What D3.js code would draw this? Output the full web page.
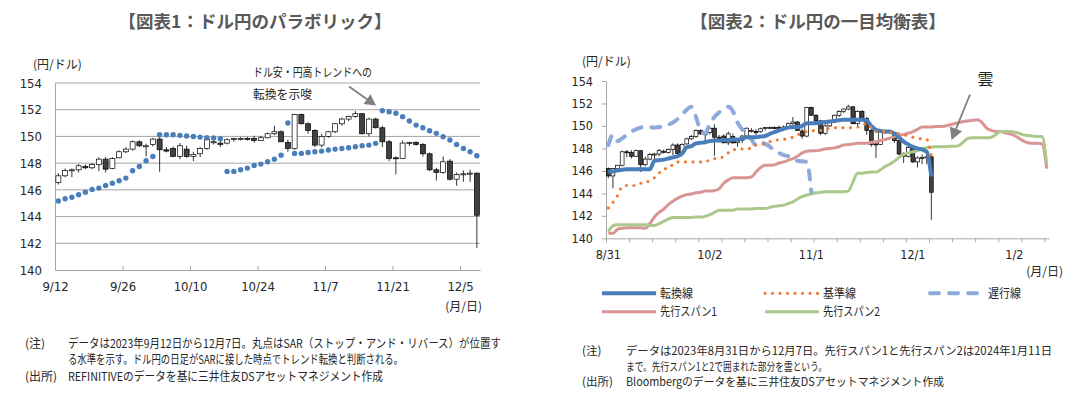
<!DOCTYPE html>
<html>
<head>
<meta charset="utf-8">
<script src="https://cdn.jsdelivr.net/npm/d3@7"></script>
<style>
  body { margin: 0; background: #fff; }
  svg text { font-family: "Noto Sans CJK JP", sans-serif; fill: #262626; }
  svg .num text, svg text.num { font-family: "DejaVu Sans Condensed", "DejaVu Sans", sans-serif; }
</style>
</head>
<body>
<svg id="chart" width="1087" height="397"></svg>
<script>
// ---- chart 1 : parabolic SAR, 2023/9/12 - 12/7 (63 trading days)
let open1 = [146.55,147.05,147.45,147.5,147.75,147.65,147.9,148.3,147.6,148.4,148.85,149.05,149.6,149.3,149.4,149.8,149.0,149.1,148.5,149.05,148.5,148.7,149.1,149.55,149.5,149.5,149.8,149.85,149.85,149.85,149.7,149.9,150.2,150.35,149.55,149.1,151.65,150.95,150.45,149.35,150.0,150.35,150.95,151.3,151.5,151.7,150.2,151.3,150.65,149.6,148.4,148.35,149.5,149.55,149.4,148.7,147.5,147.3,148.15,146.8,147.15,147.2,147.25];
let high1 = [147.25,147.6,147.6,147.95,147.9,148.0,148.45,148.45,148.45,148.95,149.2,149.7,149.7,149.45,149.9,150.15,149.2,149.25,149.5,149.3,148.85,149.2,149.85,149.8,149.7,149.85,149.9,149.95,149.95,150.05,150.05,150.3,150.8,150.45,149.75,151.7,151.7,151.05,150.55,150.2,150.4,151.0,151.4,151.55,151.9,151.75,151.4,151.4,150.8,149.75,148.5,149.7,149.6,149.65,149.5,148.8,147.65,148.5,148.3,147.3,147.45,147.5,147.3];
let low1 = [146.4,146.95,146.95,147.3,147.55,147.55,147.4,147.3,147.55,148.35,148.75,148.95,149.2,148.5,149.25,147.35,148.8,148.45,148.3,148.4,148.15,148.45,149.0,149.4,149.2,149.4,149.6,149.7,149.7,149.55,149.65,149.85,150.1,149.6,148.85,149.0,150.9,150.2,149.2,149.2,149.9,150.25,150.8,151.15,151.4,150.15,150.0,150.6,149.2,148.15,147.15,148.3,149.3,149.3,148.5,147.4,146.7,147.2,146.7,146.3,146.6,146.6,141.65];
let close1 = [147.05,147.45,147.5,147.8,147.65,147.9,148.3,147.55,148.35,148.85,149.05,149.6,149.3,149.3,149.8,149.0,148.9,148.5,149.3,148.5,148.65,149.1,149.8,149.6,149.4,149.75,149.85,149.85,149.8,149.7,149.9,150.2,150.35,149.6,149.1,151.65,150.95,150.45,149.35,150.0,150.35,150.95,151.3,151.5,151.7,150.2,151.3,150.65,149.6,148.35,148.35,149.5,149.55,149.4,148.7,147.5,147.3,148.1,146.8,147.15,147.2,147.25,144.1];
let sar1 = [145.17,145.33,145.45,145.63,145.83,146.03,146.13,146.33,146.5,146.68,146.88,147.43,147.75,148.18,148.5,
  150.13,150.13,150.13,150.08,150.03,150.0,149.95,149.9,149.88,149.83,
  147.38,147.38,147.5,147.63,147.83,147.93,148.1,148.3,148.6,
  151.0,
  148.73,148.73,148.8,148.85,148.9,148.98,149.05,149.1,149.15,149.23,149.3,149.35,149.48,
  151.93,151.85,151.73,151.48,151.15,150.85,150.65,150.43,150.23,149.98,149.73,149.4,149.1,148.85,148.55];
let tickIdx1 = [0, 10, 20, 30, 40, 50, 60];
let tickLab1 = ["9/12", "9/26", "10/10", "10/24", "11/7", "11/21", "12/5"];
let yTicks = [140, 142, 144, 146, 148, 150, 152, 154];

// ---- chart 2 : ichimoku, 2023/8/31 - 2024/1/11 (96 slots), prices 8/31 - 9/11 before chart 1 data
let openPre = [146.2, 145.55, 146.2, 146.5, 147.7, 147.65, 147.3, 147.8];
let highPre = [146.3, 146.25, 146.55, 147.8, 147.85, 147.85, 147.9, 147.85];
let lowPre = [145.35, 144.45, 146.05, 146.4, 147.2, 147.1, 147.25, 145.9];
let closePre = [145.55, 146.2, 146.5, 147.7, 147.65, 147.3, 147.8, 146.55];
let nSlots2 = 96;
let tenkan = [145.95,145.95,146.05,146.1,146.15,146.15,146.15,146.15,146.15,146.15,
  146.9,146.95,147.0,147.1,147.2,147.3,147.55,148.1,148.2,148.45,148.5,148.55,
  148.65,148.7,148.7,148.75,148.75,148.8,148.8,148.85,149.0,149.0,149.0,149.05,149.1,
  149.3,149.45,149.6,149.75,149.85,149.9,149.9,150.0,150.25,150.25,150.25,150.3,150.35,
  150.4,150.45,150.5,150.55,150.55,150.55,150.55,150.55,150.5,150.0,149.65,149.55,149.5,149.5,
  149.3,149.0,148.6,148.35,148.15,148.0,147.9,147.7,145.5];
let kijun = [142.7,143.2,143.8,144.6,144.7,144.7,144.7,144.9,144.9,145.2,145.4,145.8,146.2,146.2,146.6,
  146.8,146.8,146.8,146.8,146.8,146.8,146.8,147.0,147.1,147.1,147.3,147.6,147.9,147.9,147.95,148.0,148.0,
  148.3,148.3,148.5,148.6,148.75,148.75,148.8,148.9,149.0,149.2,149.35,149.5,149.55,149.6,149.6,149.7,149.8,
  149.85,149.85,149.85,149.85,149.85,149.9,150.0,150.25,149.85,149.5,149.5,149.5,149.45,149.4,149.3,
  149.2,149.15,149.0,148.9,148.85,148.8,147.3];
let chikou = [148.3,149.2,148.65,148.9,149.2,149.5,149.7,149.85,149.95,149.9,149.85,149.9,149.95,150.1,150.3,
  150.6,151.0,151.45,151.7,150.8,149.6,149.35,150.2,150.8,151.2,151.5,151.7,151.3,150.3,149.7,149.3,
  148.8,148.3,148.55,148.4,148.15,147.8,147.6,147.4,147.3,147.0,146.9,146.85,146.8,144.1];
let spanA = [140.45,140.45,140.8,140.9,140.95,140.95,140.95,140.95,140.9,141.3,141.9,142.3,142.6,143.0,143.3,
  143.55,143.75,143.9,143.95,144.05,144.1,144.2,144.2,144.25,144.4,144.9,145.2,145.4,145.4,145.4,145.4,
  145.45,145.9,146.3,146.5,146.5,146.55,146.7,146.8,146.95,147.1,147.3,147.6,147.75,147.8,147.8,147.85,
  147.95,148.0,148.05,148.15,148.3,148.35,148.4,148.45,148.45,148.45,148.55,148.6,148.7,148.8,148.9,
  149.05,149.15,149.25,149.35,149.5,149.7,149.9,149.9,149.9,149.95,149.95,150.0,150.1,150.2,150.3,150.4,
  150.45,150.5,150.55,150.3,149.8,149.6,149.5,149.5,149.4,149.3,149.15,148.9,148.65,148.5,148.45,148.45,148.4,146.2];
let spanB = [140.6,141.1,141.2,141.2,141.2,141.2,141.2,141.2,141.2,141.15,141.15,141.3,141.5,141.7,141.85,
  141.85,141.85,141.85,141.85,141.9,141.9,141.95,142.1,142.3,142.5,142.5,142.5,142.5,142.6,142.6,142.6,
  142.6,142.65,142.65,142.65,142.75,142.85,142.9,142.95,143.1,143.25,143.5,143.7,143.85,143.95,144.05,
  144.1,144.15,144.15,144.15,144.15,144.15,144.2,145.0,145.8,145.8,145.85,145.9,145.9,146.1,146.4,146.6,
  146.85,147.2,147.45,147.6,147.7,147.8,148.0,148.05,148.1,148.15,148.15,148.15,148.2,148.2,148.25,148.6,
  148.9,148.95,148.95,148.95,148.95,149.0,149.25,149.5,149.5,149.5,149.45,149.35,149.2,149.15,149.1,149.05,149.05,146.6];
let tickIdx2 = [0, 22, 44, 66, 88];
let tickLab2 = ["8/31", "10/2", "11/1", "12/1", "1/2"];

const svg = d3.select("#chart");
const gridCol = "#a6a6a6", axisCol = "#a6a6a6";

// titles
svg.append("text").attr("x", 255).attr("y", 28).attr("text-anchor", "middle")
  .style("font-size", "17.5px").style("font-weight", "bold").style("fill", "#595959")
  .text("【図表1：ドル円のパラボリック】");
svg.append("text").attr("x", 818).attr("y", 28).attr("text-anchor", "middle")
  .style("font-size", "17.5px").style("font-weight", "bold").style("fill", "#595959")
  .text("【図表2：ドル円の一目均衡表】");

function fit(sel, w) {
  return sel.attr("textLength", w).attr("lengthAdjust", "spacingAndGlyphs");
}

function candles(g, x, y, o, h, l, c, bodyW) {
  let days = o.map((d, i) => ({ i: i, o: o[i], h: h[i], l: l[i], c: c[i] }));
  let cx = d => x(d.i) + x.bandwidth() / 2;
  g.selectAll("line.wick").data(days).enter().append("line")
    .attr("x1", cx).attr("x2", cx)
    .attr("y1", d => y(d.h)).attr("y2", d => y(d.l))
    .attr("stroke", "#000").attr("stroke-width", 0.8);
  g.selectAll("rect.body").data(days).enter().append("rect")
    .attr("x", d => cx(d) - bodyW / 2)
    .attr("width", bodyW)
    .attr("y", d => y(Math.max(d.o, d.c)))
    .attr("height", d => Math.max(1, Math.abs(y(d.o) - y(d.c))))
    .attr("fill", d => d.c >= d.o ? "#fff" : "#404040")
    .attr("stroke", "#000").attr("stroke-width", 0.7);
}

// ================= chart 1
let n1 = open1.length;
let x1 = d3.scaleBand().domain(d3.range(n1)).range([55, 480.25]);
let xi1 = d3.scaleLinear().domain([0, n1]).range([55, 480.25]);
let y1 = d3.scaleLinear().domain([140, 154]).range([270, 83]);

let g1 = svg.append("g");
g1.selectAll("line.grid").data(yTicks.slice(1)).enter().append("line")
  .attr("x1", 55).attr("x2", 480.25)
  .attr("y1", d => y1(d)).attr("y2", d => y1(d))
  .attr("stroke", gridCol).attr("stroke-width", 1);

let yAx1 = g1.append("g").attr("class", "num").attr("transform", "translate(55,0)")
  .call(d3.axisLeft(y1).tickValues(yTicks).tickSize(0).tickPadding(13));
yAx1.select(".domain").attr("stroke", axisCol);
yAx1.selectAll("text").style("font-size", "13px").style("fill", "#262626");

let xAx1 = g1.append("g").attr("class", "num").attr("transform", "translate(0,270)")
  .call(d3.axisBottom(xi1).tickValues(tickIdx1).tickFormat((d, i) => tickLab1[i])
    .tickSizeInner(-4).tickSizeOuter(0).tickPadding(12));
xAx1.select(".domain").attr("stroke", axisCol);
xAx1.selectAll(".tick line").attr("stroke", axisCol);
xAx1.selectAll("text").style("font-size", "13px").style("fill", "#262626");

candles(g1.append("g"), x1, y1, open1, high1, low1, close1, 5);

g1.selectAll("circle.sar").data(sar1).enter().append("circle")
  .attr("cx", (d, i) => x1(i) + x1.bandwidth() / 2)
  .attr("cy", d => y1(d))
  .attr("r", 2.7)
  .attr("fill", "#4a7ebb");

svg.append("text").attr("x", 33).attr("y", 69).style("font-size", "12px").text("(円/ドル)");
svg.append("text").attr("x", 482).attr("y", 311).attr("text-anchor", "end").style("font-size", "12px").text("(月/日)");

// annotation
fit(svg.append("text").attr("x", 253).attr("y", 77).style("font-size", "12px").text("ドル安・円高トレンドへの"), 119);
fit(svg.append("text").attr("x", 253).attr("y", 99).style("font-size", "12px").text("転換を示唆"), 59);

function arrow(x0, y0, x1_, y1_, head) {
  let a = Math.atan2(y1_ - y0, x1_ - x0);
  let bx = x1_ - head * Math.cos(a), by = y1_ - head * Math.sin(a);
  svg.append("line").attr("x1", x0).attr("y1", y0).attr("x2", bx).attr("y2", by)
    .attr("stroke", "#7f7f7f").attr("stroke-width", 1.8);
  let w = head * 0.55;
  let pts = [[x1_, y1_],
    [bx + w * Math.sin(a), by - w * Math.cos(a)],
    [bx - w * Math.sin(a), by + w * Math.cos(a)]];
  svg.append("polygon").attr("points", pts.map(p => p.join(",")).join(" ")).attr("fill", "#7f7f7f");
}
arrow(349, 86.5, 376, 105.5, 11);

// notes chart 1
let noteSize = "12px";
svg.append("text").attr("x", 25).attr("y", 348).style("font-size", noteSize).text("(注)");
fit(svg.append("text").attr("x", 68).attr("y", 348).style("font-size", noteSize)
  .text("データは2023年9月12日から12月7日。丸点はSAR（ストップ・アンド・リバース）が位置す"), 433);
fit(svg.append("text").attr("x", 68).attr("y", 364).style("font-size", noteSize)
  .text("る水準を示す。ドル円の日足がSARに接した時点でトレンド転換と判断される。"), 335);
svg.append("text").attr("x", 25).attr("y", 381).style("font-size", noteSize).text("(出所)");
fit(svg.append("text").attr("x", 68).attr("y", 381).style("font-size", noteSize)
  .text("REFINITIVEのデータを基に三井住友DSアセットマネジメント作成"), 315);

// ================= chart 2
let open2 = openPre.concat(open1), high2 = highPre.concat(high1),
    low2 = lowPre.concat(low1), close2 = closePre.concat(close1);
let x2 = d3.scaleBand().domain(d3.range(nSlots2)).range([606, 1049]);
let xi2 = d3.scaleLinear().domain([0, nSlots2]).range([606, 1049]);
let y2 = d3.scaleLinear().domain([140, 154]).range([238.3, 81]);

let g2 = svg.append("g");
let yAx2 = g2.append("g").attr("class", "num").attr("transform", "translate(606,0)")
  .call(d3.axisLeft(y2).tickValues(yTicks).tickSizeInner(4).tickSizeOuter(0).tickPadding(9));
yAx2.select(".domain").attr("stroke", axisCol);
yAx2.selectAll(".tick line").attr("stroke", axisCol);
yAx2.selectAll("text").style("font-size", "12.5px").style("fill", "#262626");

let xAx2 = g2.append("g").attr("class", "num").attr("transform", "translate(0,238.3)")
  .call(d3.axisBottom(xi2).tickValues(d3.range(0, nSlots2, 5)).tickFormat("").tickSizeInner(4).tickSizeOuter(0));
xAx2.select(".domain").attr("stroke", axisCol);
xAx2.selectAll(".tick line").attr("stroke", axisCol);

let xLab2 = g2.append("g").attr("class", "num").attr("transform", "translate(0,238.3)")
  .call(d3.axisBottom(x2).tickValues(tickIdx2).tickFormat((d, i) => tickLab2[i]).tickSize(0).tickPadding(12));
xLab2.select(".domain").remove();
xLab2.selectAll("text").style("font-size", "12.5px").style("fill", "#262626");

candles(g2.append("g"), x2, y2, open2, high2, low2, close2, 3.8);

let line2 = d3.line().x((d, i) => x2(i) + x2.bandwidth() / 2).y(d => y2(d)).curve(d3.curveMonotoneX);
let styles = [
  { data: spanA, col: "#d99594", w: 3, dash: null, cap: "butt" },
  { data: spanB, col: "#aac98a", w: 3, dash: null, cap: "butt" },
  { data: chikou, col: "#8eaadb", w: 4, dash: "9 10", cap: "round" },
  { data: tenkan, col: "#4a7ebb", w: 4, dash: null, cap: "butt" },
  { data: kijun, col: "#ed7d31", w: 3.2, dash: "0 7.5", cap: "round" }
];
styles.forEach(s => {
  g2.append("path").attr("d", line2(s.data)).attr("fill", "none")
    .attr("stroke", s.col).attr("stroke-width", s.w)
    .attr("stroke-dasharray", s.dash).attr("stroke-linecap", s.cap)
    .attr("stroke-linejoin", "round");
});

svg.append("text").attr("x", 582).attr("y", 66).style("font-size", "12px").text("(円/ドル)");
svg.append("text").attr("x", 1063).attr("y", 276).attr("text-anchor", "end").style("font-size", "12px").text("(月/日)");

svg.append("text").attr("x", 985.5).attr("y", 85).attr("text-anchor", "middle").style("font-size", "16px").text("雲");
arrow(970, 94.5, 951.5, 140, 12);

// legend
let legend = [
  { lab: "転換線", s: styles[3], x: 602, y: 293.3, w: 33 },
  { lab: "基準線", s: styles[4], x: 765, y: 293.3, w: 33 },
  { lab: "遅行線", s: styles[2], x: 930, y: 293.3, w: 33 },
  { lab: "先行スパン1", s: styles[0], x: 602, y: 311.7, w: 57 },
  { lab: "先行スパン2", s: styles[1], x: 765, y: 311.7, w: 57 }
];
legend.forEach(d => {
  svg.append("line").attr("x1", d.x).attr("x2", d.x + 54).attr("y1", d.y).attr("y2", d.y)
    .attr("stroke", d.s.col).attr("stroke-width", d.s.w)
    .attr("stroke-dasharray", d.s.dash).attr("stroke-linecap", d.s.cap);
  fit(svg.append("text").attr("x", d.x + 58).attr("y", d.y + 4.5).style("font-size", "12px").text(d.lab), d.w);
});

// notes chart 2
let note2 = "11.5px";
svg.append("text").attr("x", 582).attr("y", 355).style("font-size", note2).text("(注)");
fit(svg.append("text").attr("x", 626).attr("y", 355).style("font-size", note2)
  .text("データは2023年8月31日から12月7日。先行スパン1と先行スパン2は2024年1月11日"), 426);
fit(svg.append("text").attr("x", 626).attr("y", 370.5).style("font-size", note2)
  .text("まで。先行スパン1と2で囲まれた部分を雲という。"), 201);
svg.append("text").attr("x", 582).attr("y", 386).style("font-size", note2).text("(出所)");
fit(svg.append("text").attr("x", 626).attr("y", 386).style("font-size", note2)
  .text("Bloombergのデータを基に三井住友DSアセットマネジメント作成"), 318);
</script>
</body>
</html>
